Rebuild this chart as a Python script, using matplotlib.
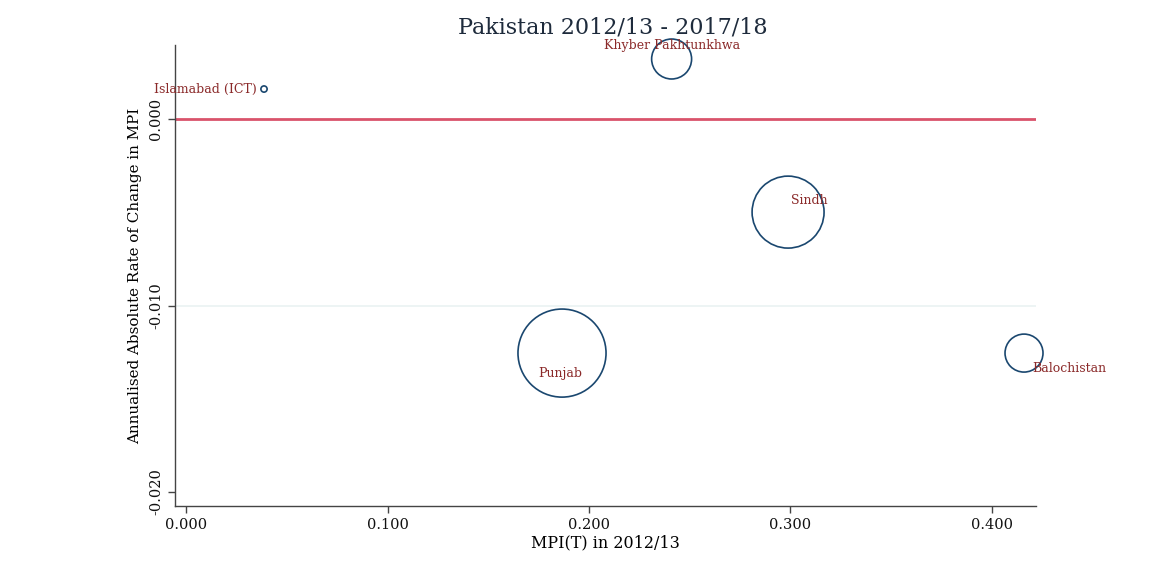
import numpy as np
import matplotlib.pyplot as plt

# Data
regions = ["Islamabad (ICT)", "Khyber Pakhtunkhwa", "Sindh", "Punjab", "Balochistan"]
mpi_2012 = [0.0387, 0.241, 0.2988, 0.1866, 0.4159]
abs_change = [0.00161, 0.00322, -0.00499, -0.01255, -0.01255]
bubble_weight = [0.5, 20.6, 66.8, 100.0, 18.6]   # relative population weight

xticks = [0.0, 0.1, 0.2, 0.3, 0.4]
yticks = [0.0, -0.01, -0.02]

# label offsets in points (dx, dy, ha, va) - mimic Stata clock positions
label_pos = {
    "Islamabad (ICT)": (-5, 0, "right", "center"),
    "Khyber Pakhtunkhwa": (0, 10, "center", "center"),
    "Sindh": (2, 8, "left", "center"),
    "Punjab": (-1, -15, "center", "center"),
    "Balochistan": (6, -11, "left", "center"),
}

plt.rcParams['font.family'] = ['DejaVu Serif']

fig = plt.figure(figsize=(11.51, 5.75), dpi=100)
ax = fig.add_axes([0.152, 0.12, 0.748, 0.8017])

navy = "#1a476f"
lab_col = "#8b2a2a"

ax.axhline(-0.01, color="#eaf2f2", lw=1.2, zorder=0)
ax.axhline(0.0, color="#d9536b", lw=2, zorder=1)

sizes = np.array(bubble_weight) * 40.2
ax.scatter(mpi_2012, abs_change, s=sizes, facecolors="none",
           edgecolors=navy, linewidths=1.2, zorder=3, clip_on=False)

for name, x, y in zip(regions, mpi_2012, abs_change):
    dx, dy, ha, va = label_pos[name]
    ax.annotate(name, (x, y), xytext=(dx, dy), textcoords="offset points",
                ha=ha, va=va, fontsize=9, color=lab_col, zorder=4)

ax.set_xlim(-0.0055, 0.4218)
ax.set_ylim(-0.02075, 0.00397)
ax.set_xticks(xticks)
ax.set_xticklabels([f"{t:.3f}" for t in xticks])
ax.set_yticks(yticks)
ax.set_yticklabels([f"{t:.3f}" for t in yticks], rotation=90, va="center")

for side in ["top", "right"]:
    ax.spines[side].set_visible(False)
for side in ["left", "bottom"]:
    ax.spines[side].set_color("#444444")
    ax.spines[side].set_linewidth(1.0)
ax.tick_params(direction="out", length=5, width=1, color="#444444",
               labelsize=10.5, labelcolor="#111111")

ax.set_xlabel("MPI(T) in 2012/13", fontsize=11.5, labelpad=2)
ax.set_ylabel("Annualised Absolute Rate of Change in MPI", fontsize=10.9, labelpad=5)

fig.text(0.532, 0.953, "Pakistan 2012/13 - 2017/18", ha="center", va="center",
         fontsize=16, color="#1e2b3c")

fig.savefig("out.png", dpi=100)
